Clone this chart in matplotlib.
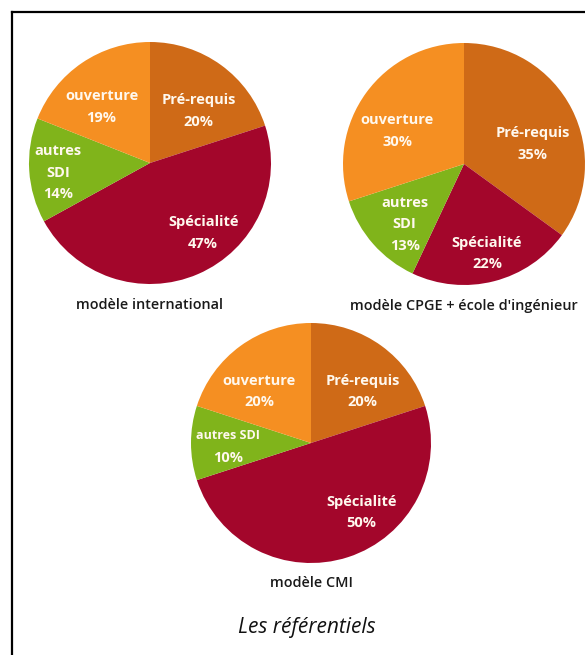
import matplotlib.pyplot as plt
from matplotlib.lines import Line2D

# données des trois référentiels
categories = ["Pré-requis", "Spécialité", "autres\nSDI", "ouverture"]
intl_values = [20, 47, 14, 19]
cpge_values = [35, 22, 13, 30]
cmi_values = [20, 50, 10, 20]
titles = ["modèle international", "modèle CPGE + école d'ingénieur", "modèle CMI"]
caption = "Les référentiels"

colors = ["#CF6A17", "#A3062B", "#80B41B", "#F58F22"]

W, H = 585, 655
fig = plt.figure(figsize=(W / 100, H / 100), dpi=100)
fig.patch.set_facecolor("white")
FONT = ["Open Sans", "DejaVu Sans"]


def px_axes(cx, cy, r):
    # axes carré centré sur (cx, cy) en pixels, rayon r
    return fig.add_axes([(cx - r) / W, 1 - (cy + r) / H, 2 * r / W, 2 * r / H])


# positions des étiquettes (relatives au rayon) pour chaque camembert
label_pos = [
    [(0.40, 0.43), (0.44, -0.58), (-0.76, -0.08), (-0.40, 0.46)],
    [(0.57, 0.165), (0.19, -0.74), (-0.49, -0.50), (-0.55, 0.27)],
    [(0.43, 0.43), (0.42, -0.58), (-0.69, -0.03), (-0.43, 0.43)],
]
centers = [(150, 163, 121), (464, 164, 121), (311, 443, 120)]
all_values = [intl_values, cpge_values, cmi_values]

for i, (vals, (cx, cy, r)) in enumerate(zip(all_values, centers)):
    ax = px_axes(cx, cy, r)
    ax.pie(vals, colors=colors, startangle=90, counterclock=False, radius=1,
           wedgeprops=dict(linewidth=0))
    ax.set_xlim(-1, 1)
    ax.set_ylim(-1, 1)
    ax.set_aspect("equal")
    ax.axis("off")
    for j, (lab, v) in enumerate(zip(categories, vals)):
        x, y = label_pos[i][j]
        kw = dict(ha="center", va="center", color="#FFF8EE", fontweight="bold",
                  family=FONT, clip_on=False)
        if i == 2 and j == 2:
            # CMI : "autres SDI" sur une seule ligne, un peu plus petit
            ax.text(x, y + 0.09, lab.replace("\n", " "), fontsize=9.0, **kw)
            ax.text(x, y - 0.095, f"{v}%", fontsize=10.5, **kw)
        else:
            ax.text(x, y, f"{lab}\n{v}%", fontsize=10.5, linespacing=1.7, **kw)
    ax.text(0, -1.17, titles[i], ha="center", va="center", color="#1a1a1a",
            fontsize=10.4, family=FONT, fontweight="semibold", clip_on=False)

fig.text(307 / W, 1 - 627 / H, caption, ha="center", va="center", fontsize=15,
         style="italic", family=FONT, color="#111111")

# cadre
fig.add_artist(Line2D([12 / W, 12 / W], [0, 1 - 12 / H], color="black", lw=1.6,
                      transform=fig.transFigure))
fig.add_artist(Line2D([12 / W, 1], [1 - 12 / H, 1 - 12 / H], color="black", lw=1.6,
                      transform=fig.transFigure))

fig.savefig("out.png", dpi=100)
